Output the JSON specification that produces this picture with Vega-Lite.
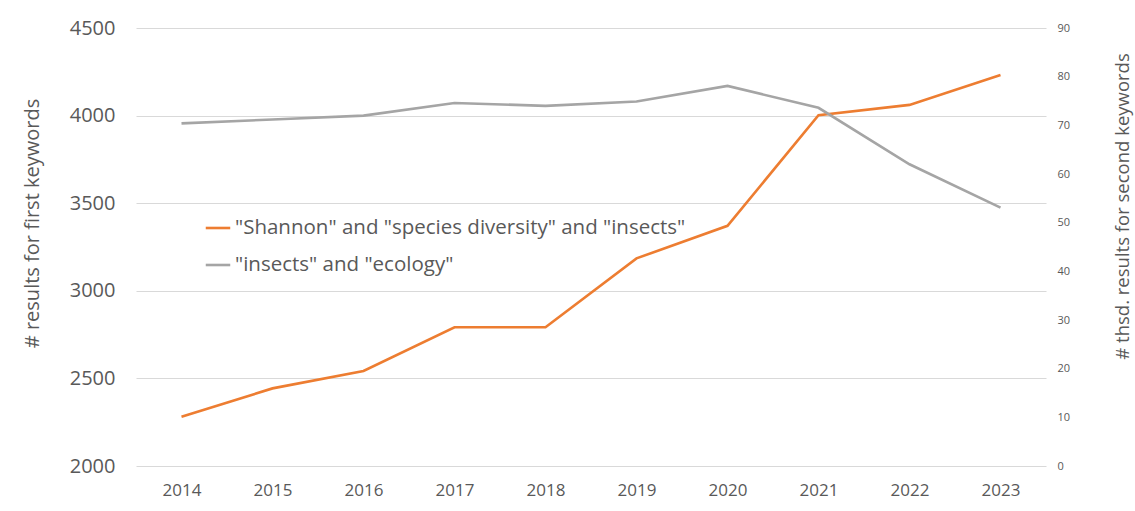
{
  "$schema": "https://vega.github.io/schema/vega-lite/v6.json",
  "width": 910,
  "height": 438,
  "autosize": {"type": "none"},
  "padding": {"left": 136, "top": 28, "right": 89, "bottom": 45},
  "background": "white",
  "config": {"view": {"stroke": null}, "font": "Open Sans"},
  "data": {"values": [
    {"year": "2014", "series": "\"Shannon\" and \"species diversity\" and \"insects\"", "value": 2281},
    {"year": "2015", "series": "\"Shannon\" and \"species diversity\" and \"insects\"", "value": 2443},
    {"year": "2016", "series": "\"Shannon\" and \"species diversity\" and \"insects\"", "value": 2542},
    {"year": "2017", "series": "\"Shannon\" and \"species diversity\" and \"insects\"", "value": 2792},
    {"year": "2018", "series": "\"Shannon\" and \"species diversity\" and \"insects\"", "value": 2792},
    {"year": "2019", "series": "\"Shannon\" and \"species diversity\" and \"insects\"", "value": 3185},
    {"year": "2020", "series": "\"Shannon\" and \"species diversity\" and \"insects\"", "value": 3371},
    {"year": "2021", "series": "\"Shannon\" and \"species diversity\" and \"insects\"", "value": 4002},
    {"year": "2022", "series": "\"Shannon\" and \"species diversity\" and \"insects\"", "value": 4061},
    {"year": "2023", "series": "\"Shannon\" and \"species diversity\" and \"insects\"", "value": 4232},
    {"year": "2014", "series": "\"insects\" and \"ecology\"", "value": 70.4},
    {"year": "2015", "series": "\"insects\" and \"ecology\"", "value": 71.2},
    {"year": "2016", "series": "\"insects\" and \"ecology\"", "value": 72.0},
    {"year": "2017", "series": "\"insects\" and \"ecology\"", "value": 74.6},
    {"year": "2018", "series": "\"insects\" and \"ecology\"", "value": 74.0},
    {"year": "2019", "series": "\"insects\" and \"ecology\"", "value": 74.9},
    {"year": "2020", "series": "\"insects\" and \"ecology\"", "value": 78.1},
    {"year": "2021", "series": "\"insects\" and \"ecology\"", "value": 73.6},
    {"year": "2022", "series": "\"insects\" and \"ecology\"", "value": 62.0},
    {"year": "2023", "series": "\"insects\" and \"ecology\"", "value": 53.1}
  ]},
  "encoding": {
    "x": {
      "field": "year",
      "type": "ordinal",
      "axis": {
        "title": null,
        "labelAngle": 0,
        "domain": false,
        "ticks": false,
        "labelFontSize": 17,
        "labelColor": "#595959",
        "labelPadding": 16,
        "labelBaseline": "top"
      }
    },
    "color": {
      "field": "series",
      "type": "nominal",
      "scale": {
        "domain": ["\"Shannon\" and \"species diversity\" and \"insects\"", "\"insects\" and \"ecology\""],
        "range": ["#ED7D31", "#A5A5A5"]
      },
      "legend": {
        "title": null,
        "orient": "none",
        "legendX": 68,
        "legendY": 186,
        "symbolType": "stroke",
        "symbolStrokeWidth": 2.6,
        "symbolSize": 600,
        "labelFontSize": 20.5,
        "labelColor": "#595959",
        "labelOffset": 3,
        "rowPadding": 12,
        "labelLimit": 600
      }
    }
  },
  "layer": [
    {
      "transform": [{"filter": "datum.series === '\"Shannon\" and \"species diversity\" and \"insects\"'"}],
      "mark": {"type": "line", "strokeWidth": 2.6},
      "encoding": {
        "y": {
          "field": "value",
          "type": "quantitative",
          "scale": {"domain": [2000, 4500], "nice": false, "zero": false},
          "axis": {
            "orient": "left",
            "title": "# results for first keywords",
            "values": [2000, 2500, 3000, 3500, 4000, 4500],
            "format": "d",
            "domain": false,
            "ticks": false,
            "grid": true,
            "gridColor": "#d9d9d9",
            "gridWidth": 1,
            "labelFontSize": 20,
            "labelColor": "#595959",
            "labelPadding": 21,
            "titleFontSize": 20,
            "titleFontWeight": "normal",
            "titleColor": "#595959",
            "titleAngle": 270,
            "titleX": -104,
            "titleY": 195,
            "titleBaseline": "middle"
          }
        }
      }
    },
    {
      "transform": [{"filter": "datum.series === '\"insects\" and \"ecology\"'"}],
      "mark": {"type": "line", "strokeWidth": 2.6},
      "encoding": {
        "y": {
          "field": "value",
          "type": "quantitative",
          "scale": {"domain": [0, 90], "nice": false},
          "axis": {
            "orient": "right",
            "title": "# thsd. results for second keywords",
            "values": [0, 10, 20, 30, 40, 50, 60, 70, 80, 90],
            "domain": false,
            "ticks": false,
            "grid": false,
            "labelFontSize": 11,
            "labelColor": "#595959",
            "labelPadding": 11,
            "titleFontSize": 18.5,
            "titleFontWeight": "normal",
            "titleColor": "#595959",
            "titleAngle": 270,
            "titleX": 76,
            "titleY": 178,
            "titleBaseline": "middle"
          }
        }
      }
    }
  ],
  "resolve": {"scale": {"y": "independent"}}
}
